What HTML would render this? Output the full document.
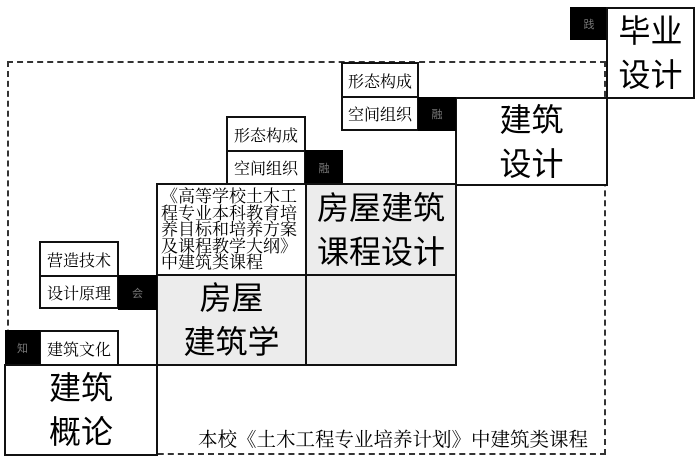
<!DOCTYPE html>
<html><head><meta charset="utf-8"><style>
body{margin:0;width:700px;height:460px;background:#fff;position:relative;overflow:hidden;font-family:"Liberation Sans","Noto Sans CJK SC",sans-serif}
.b{position:absolute;box-sizing:border-box;border:2.5px solid #111;background:#fff;display:flex;align-items:center;justify-content:center;text-align:center}
.s{font-family:"Noto Serif CJK SC","WenQuanYi Zen Hei",serif;font-size:16px}
.k{position:absolute;background:#000;color:#777;font-size:11px;display:flex;align-items:center;justify-content:center;font-family:"Noto Sans CJK SC",sans-serif}
.L{font-size:32px;line-height:44px}
.g{background:#ececec}
.d{position:absolute;border:0 dashed #333}
</style></head><body>
<div class="d" style="left:7px;top:61px;width:599px;height:394px;border-width:2.5px;box-sizing:border-box"></div>
<div class="k" style="left:570px;top:7px;width:38px;height:33px">践</div>
<div class="b L" style="left:606px;top:7px;width:89px;height:92px">毕业<br>设计</div>
<div class="b L" style="left:455px;top:97px;width:153px;height:89px">建筑<br>设计</div>
<div class="b s" style="left:341px;top:62px;width:78px;height:36px">形态构成</div>
<div class="b s" style="left:341px;top:96px;width:78px;height:35px">空间组织</div>
<div class="k" style="left:418px;top:97px;width:38px;height:34px">融</div>
<div class="b s" style="left:226px;top:116px;width:80px;height:36px">形态构成</div>
<div class="b s" style="left:226px;top:150px;width:80px;height:35px">空间组织</div>
<div class="k" style="left:305px;top:150px;width:38px;height:35px">融</div>
<div class="b s" style="left:156px;top:183px;width:151px;height:93px;font-size:17px;line-height:16.5px;text-align:left;justify-content:flex-start;align-items:flex-start;padding:2px 0 0 3px;white-space:nowrap">《高等学校土木工<br>程专业本科教育培<br>养目标和培养方案<br>及课程教学大纲》<br>中建筑类课程</div>
<div class="b g L" style="left:305px;top:183px;width:152px;height:93px">房屋建筑<br>课程设计</div>
<div class="b g" style="left:305px;top:274px;width:152px;height:92px"></div>
<div class="b g L" style="left:156px;top:274px;width:151px;height:92px">房屋<br>建筑学</div>
<div class="b s" style="left:39px;top:241px;width:80px;height:36px">营造技术</div>
<div class="b s" style="left:39px;top:275px;width:80px;height:34px">设计原理</div>
<div class="k" style="left:118px;top:275px;width:39px;height:35px">会</div>
<div class="b s" style="left:39px;top:330px;width:80px;height:37px">建筑文化</div>
<div class="k" style="left:5px;top:330px;width:35px;height:36px">知</div>
<div class="b L" style="left:4px;top:364px;width:154px;height:92px">建筑<br>概论</div>
<div class="s" style="position:absolute;left:198px;top:424px;font-size:19.5px;white-space:nowrap">本校《土木工程专业培养计划》中建筑类课程</div>
</body></html>
